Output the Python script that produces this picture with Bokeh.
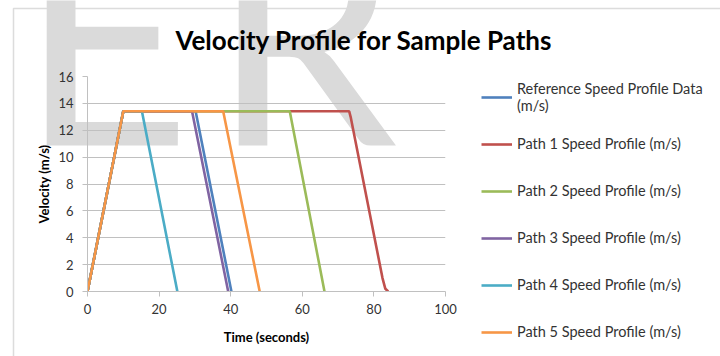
from bokeh.plotting import figure
from bokeh.models import Legend, LegendItem, Label, Range1d, FixedTicker, BoxAnnotation, Column, Row
from bokeh.embed import file_html
from bokeh.resources import INLINE

# ---- data ----
ref_t = [0, 10, 30.2, 40.2]
ref_v = [0, 13.41, 13.41, 0]
p1_t = [0, 10, 73.1, 73.5, 82.4, 83.2, 84.0]
p1_v = [0, 13.41, 13.41, 13.0, 1.0, 0.2, 0]
p2_t = [0, 10, 56.5, 66.2]
p2_v = [0, 13.41, 13.41, 0]
p3_t = [0, 10, 29.2, 39.3]
p3_v = [0, 13.41, 13.41, 0]
p4_t = [0, 10, 15.2, 25.1]
p4_v = [0, 13.41, 13.41, 0]
p5_t = [0, 10, 37.9, 48.1]
p5_v = [0, 13.41, 13.41, 0]

series_names = [
    "Reference Speed Profile Data\n(m/s)",
    "Path 1 Speed Profile (m/s)",
    "Path 2 Speed Profile (m/s)",
    "Path 3 Speed Profile (m/s)",
    "Path 4 Speed Profile (m/s)",
    "Path 5 Speed Profile (m/s)",
]
series_colors = ["#4F81BD", "#C0504D", "#9BBB59", "#8064A2", "#4BACC6", "#F79646"]
series_t = [ref_t, p1_t, p2_t, p3_t, p4_t, p5_t]
series_v = [ref_v, p1_v, p2_v, p3_v, p4_v, p5_v]

x_ticks = [0, 20, 40, 60, 80, 100]
y_ticks = [0, 2, 4, 6, 8, 10, 12, 14, 16]

FONT = "Lato"
TXT = "#333333"
GRID = "#c0c0c0"
W, H = 720, 356

# ---------- background layer: chart border, watermark, legend ----------
bg = figure(width=W, height=H, output_backend="svg", toolbar_location=None,
            x_range=Range1d(0, W), y_range=Range1d(0, H),
            x_axis_type=None, y_axis_type=None,
            min_border_left=0, min_border_right=0, min_border_top=0, min_border_bottom=0)
bg.outline_line_color = None
bg.background_fill_color = "white"
bg.border_fill_color = "white"

border = BoxAnnotation(left=13, right=W + 50, top=H - 8, bottom=-50,
                       left_units="screen", right_units="screen",
                       top_units="screen", bottom_units="screen",
                       fill_alpha=0, line_color="#8a8a8a", line_width=1.5)
bg.add_layout(border)

for letter, lx in (("E", 19), ("R", 211)):
    bg.add_layout(Label(x=lx, y=H - 30, x_units="screen", y_units="screen", text=letter,
                        text_font=FONT, text_font_size="297px", text_color="#dadada",
                        text_baseline="alphabetic", text_align="left"))

# legend keys: hidden copies of the series (same data), used only for the legend glyphs
proxies = [bg.line(t, v, line_color=c, line_width=2.6, visible=False)
           for t, v, c in zip(series_t, series_v, series_colors)]
legend = Legend(items=[LegendItem(label=n, renderers=[r]) for n, r in zip(series_names, proxies)],
                location=(481, 7), orientation="vertical")
legend.label_text_font = FONT
legend.label_text_font_size = "14.5px"
legend.label_text_color = TXT
legend.glyph_width = 31
legend.glyph_height = 14
legend.label_height = 35
legend.label_standoff = 5
legend.spacing = 12
legend.padding = 0
legend.margin = 0
legend.border_line_color = None
legend.background_fill_alpha = 0
legend.inactive_fill_alpha = 0
bg.add_layout(legend)

# ---------- main chart ----------
p = figure(width=W, height=H, output_backend="svg", toolbar_location=None,
           x_range=Range1d(0, 100), y_range=Range1d(0, 16),
           min_border_left=87, min_border_right=275, min_border_top=75, min_border_bottom=65)
p.outline_line_color = None
p.background_fill_color = None
p.border_fill_color = None

p.title.text = "Velocity Profile for Sample Paths"
p.title.align = "left"
p.title.offset = 88
p.title.text_font = FONT
p.title.text_font_size = "26px"
p.title.text_font_style = "bold"
p.title.text_color = "#000000"
p.title.standoff = 42

for ax in (p.xaxis[0], p.yaxis[0]):
    ax.axis_line_color = GRID
    ax.major_tick_line_color = GRID
    ax.minor_tick_line_color = None
    ax.major_tick_in = 0
    ax.major_tick_out = 5
    ax.major_label_text_font = FONT
    ax.major_label_text_font_size = "13px"
    ax.major_label_text_color = TXT
    ax.axis_label_text_font = FONT
    ax.axis_label_text_font_size = "13px"
    ax.axis_label_text_font_style = "bold"
    ax.axis_label_text_color = "#000000"

p.xaxis.ticker = FixedTicker(ticks=x_ticks)
p.yaxis.ticker = FixedTicker(ticks=y_ticks)
p.xaxis.axis_label = "Time (seconds)"
p.yaxis.axis_label = "Velocity (m/s)"
p.xaxis.major_label_standoff = 7
p.yaxis.major_label_standoff = 9
p.xaxis.axis_label_standoff = 12
p.yaxis.axis_label_standoff = 3

p.xgrid.grid_line_color = None
p.ygrid.grid_line_color = GRID
p.ygrid.ticker = FixedTicker(ticks=y_ticks)

for t, v, c in zip(series_t, series_v, series_colors):
    p.line(t, v, line_color=c, line_width=2.6)

bg_box = Row(children=[bg])
fg_box = Row(children=[p], margin=(-H, 0, 0, 0))
layout = Column(children=[bg_box, fg_box])

open("out.html", "w").write(file_html(layout, INLINE))
